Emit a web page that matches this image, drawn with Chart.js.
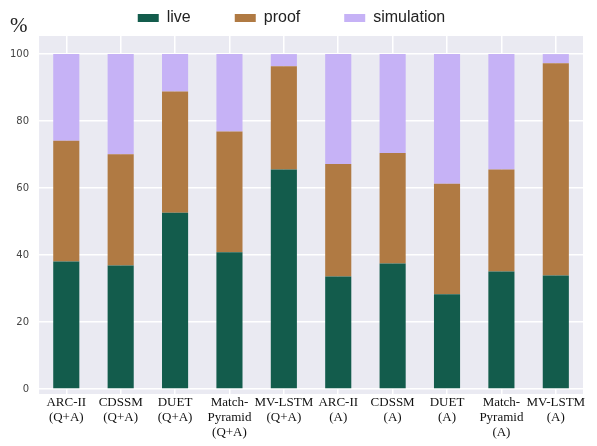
<!DOCTYPE html>
<html>
<head>
<meta charset="utf-8">
<script src="https://cdn.jsdelivr.net/npm/chart.js@4"></script>
<style>
  html, body { margin: 0; padding: 0; background: #fff; }
  #wrap { width: 597px; height: 446px; }
</style>
</head>
<body>
<div id="wrap"><canvas id="chart"></canvas></div>
<script>
// categories, shown on two or three lines under each bar
const categories = [
  ['ARC-II', '(Q+A)'],
  ['CDSSM', '(Q+A)'],
  ['DUET', '(Q+A)'],
  ['Match-', 'Pyramid', '(Q+A)'],
  ['MV-LSTM', '(Q+A)'],
  ['ARC-II', '(A)'],
  ['CDSSM', '(A)'],
  ['DUET', '(A)'],
  ['Match-', 'Pyramid', '(A)'],
  ['MV-LSTM', '(A)']
];

// percentages per series (stacked to 100)
const live       = [38.1, 36.9, 52.6, 40.8, 65.5, 33.6, 37.5, 28.3, 35.1, 33.9];
const proof      = [36.0, 33.2, 36.2, 36.1, 30.9, 33.6, 33.0, 33.0, 30.4, 63.4];
const simulation = [25.9, 29.9, 11.2, 23.1,  3.6, 32.8, 29.5, 38.7, 34.5,  2.7];

const yTicks = [0, 20, 40, 60, 80, 100];

// grey plot background, seaborn style
const plotBg = {
  id: 'plotBg',
  beforeDraw(chart) {
    const { ctx, chartArea: a } = chart;
    ctx.save();
    ctx.fillStyle = '#eaeaf2';
    ctx.fillRect(a.left, a.top, a.right - a.left, a.bottom - a.top);
    ctx.restore();
  }
};

// the "%" unit in the top left corner
const unitLabel = {
  id: 'unitLabel',
  afterDraw(chart) {
    const { ctx, chartArea: a } = chart;
    ctx.save();
    ctx.font = '21px "Liberation Serif", "Times New Roman", serif';
    ctx.fillStyle = '#222';
    ctx.textBaseline = 'alphabetic';
    ctx.fillText('%', a.left - 29, a.top - 4);
    ctx.restore();
  }
};

new Chart(document.getElementById('chart').getContext('2d'), {
  type: 'bar',
  data: {
    labels: categories,
    datasets: [
      { label: 'live', data: live, backgroundColor: '#135c4c' },
      { label: 'proof', data: proof, backgroundColor: '#b07a43' },
      { label: 'simulation', data: simulation, backgroundColor: '#c6b2f6' }
    ]
  },
  options: {
    responsive: true,
    maintainAspectRatio: false,
    animation: false,
    layout: { padding: { left: 0, right: 14, top: -34, bottom: 5 } },
    datasets: {
      bar: { barPercentage: 0.48, categoryPercentage: 1.0, borderWidth: 0 }
    },
    plugins: {
      legend: {
        position: 'top',
        labels: {
          boxWidth: 21,
          boxHeight: 8,
          padding: 44,
          color: '#222',
          font: { family: '"Liberation Sans", Arial, sans-serif', size: 16 }
        }
      },
      tooltip: { enabled: false }
    },
    scales: {
      x: {
        stacked: true,
        grid: { color: '#ffffff', lineWidth: 1.5, offset: false, drawTicks: false },
        border: { display: false },
        ticks: {
          color: '#111',
          padding: 1,
          maxRotation: 0,
          autoSkip: false,
          font: { family: '"Liberation Serif", "Times New Roman", serif', size: 13, lineHeight: 1.154 }
        }
      },
      y: {
        stacked: true,
        min: -1.5,
        max: 105.4,
        afterBuildTicks(scale) {
          scale.ticks = yTicks.map(v => ({ value: v }));
        },
        grid: { color: '#ffffff', lineWidth: 1.5, drawTicks: false },
        border: { display: false },
        ticks: {
          color: '#444',
          padding: 10,
          font: { family: '"DejaVu Sans", sans-serif', size: 10 }
        }
      }
    }
  },
  plugins: [plotBg, unitLabel]
});
</script>
</body>
</html>
